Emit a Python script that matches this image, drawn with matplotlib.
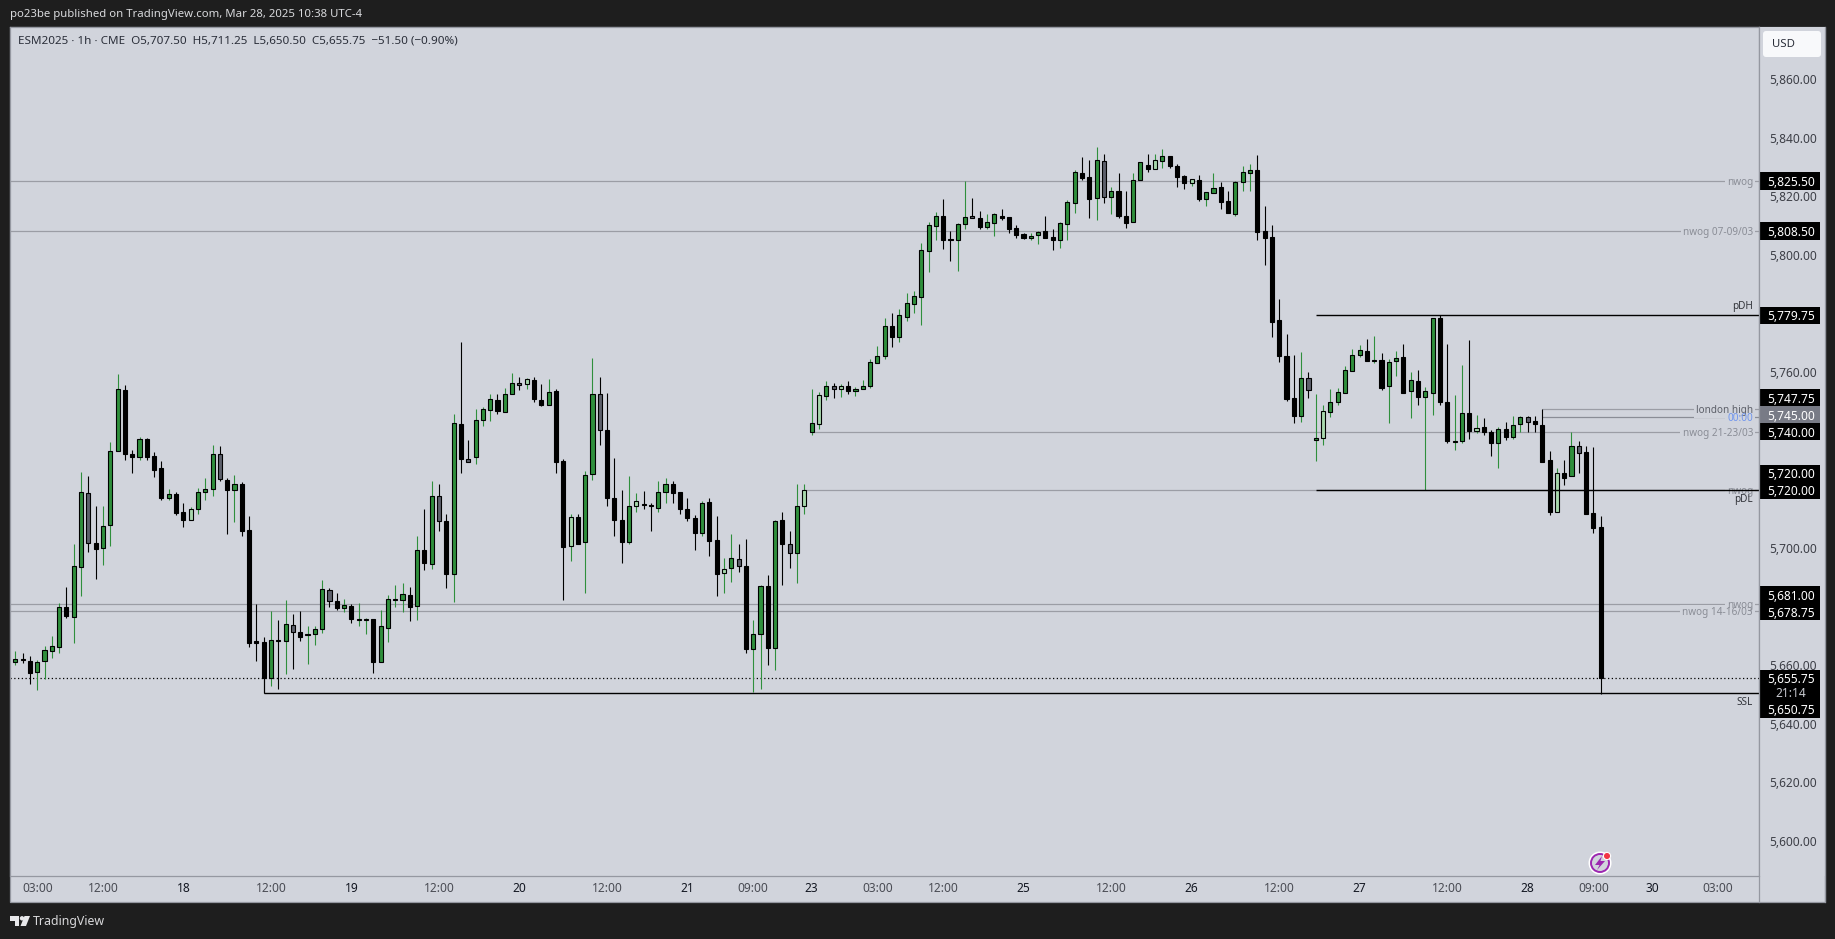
import matplotlib
matplotlib.use("Agg")
import matplotlib.pyplot as plt
from matplotlib.patches import Rectangle, Circle, Polygon, FancyBboxPatch
from matplotlib.transforms import ScaledTranslation

plt.rcParams['font.family'] = ['Noto Sans', 'DejaVu Sans']

# one entry per 1h candle, G green up, L pale up, B black down, K grey down
kinds = ("GBBGGGGBGG" "KBGGGBBGBB" "BGBBLGGGKB" "GBBBBGBGKB" "GGGKBGBGGB"
         "GGGGBGBGKB" "GBKGGGBGGK" "LBBGBBLBGG" "KBBBGLBBGG" "BBBBGBBLGK"
         "BGGBGBKGLG" "LGKLBGGGGG" "BGGGGGGBBG" "GKBGGBBBBG" "GBBGGGBBGK"
         "GBBGGBLGBB" "BLBGGBBGGG" "BBBBBBGKGL" "GGGGGBGBGG" "BGBGGBBGGB"
         "LBBGBGGKBB" "BLBGKBBB")

highs = [5665.0,5664.5,5663.5,5662.0,5667.0,5670.25,5681.5,5687.0,5701.75,5726.25,
         5725.0,5714.5,5714.5,5736.5,5759.75,5755.75,5733.75,5738.0,5737.75,5733.0,
         5730.0,5720.25,5719.5,5715.75,5714.25,5720.75,5724.0,5735.5,5735.25,5724.0,
         5725.25,5722.75,5711.25,5681.25,5669.75,5678.75,5675.75,5682.5,5677.75,5678.75,
         5673.5,5673.5,5689.5,5686.75,5685.0,5682.75,5681.0,5681.5,5676.5,5676.0,
         5679.25,5684.25,5687.75,5688.5,5687.0,5704.5,5713.75,5723.0,5722.25,5712.0,
         5746.0,5770.5,5737.0,5747.75,5748.5,5753.0,5753.0,5755.0,5760.0,5758.5,
         5758.25,5758.75,5756.25,5758.0,5754.5,5730.5,5711.75,5712.0,5726.5,5765.25,
         5758.5,5753.25,5731.0,5720.0,5725.0,5719.0,5719.75,5715.5,5723.0,5724.0,
         5723.0,5719.5,5717.5,5711.5,5716.25,5717.5,5711.25,5697.0,5705.0,5701.75,
         5703.5,5675.75,5687.75,5691.0,5710.0,5712.5,5706.25,5722.25,5722.25,5754.5,
         5753.5,5757.25,5756.5,5756.25,5757.25,5755.25,5757.5,5764.75,5769.25,5778.75,
         5780.5,5782.0,5787.25,5788.0,5804.5,5811.5,5815.0,5819.25,5808.5,5811.25,
         5825.5,5819.75,5815.25,5814.25,5814.75,5816.0,5813.25,5810.5,5807.75,5807.75,
         5808.5,5813.75,5809.25,5811.5,5819.0,5829.25,5833.75,5832.75,5837.25,5834.75,
         5823.5,5828.25,5822.25,5828.25,5832.0,5834.75,5834.75,5836.5,5834.0,5831.25,
         5827.75,5826.25,5827.75,5821.75,5828.25,5825.25,5822.25,5825.5,5830.5,5831.25,
         5834.5,5817.0,5810.5,5785.25,5773.25,5766.25,5767.25,5760.5,5752.75,5749.25,
         5754.5,5755.0,5762.25,5768.25,5769.5,5771.75,5772.75,5767.0,5764.75,5767.5,
         5770.0,5760.5,5761.0,5755.25,5778.75,5779.75,5770.0,5752.5,5762.75,5771.25,
         5745.75,5744.75,5740.5,5741.5,5743.25,5745.5,5745.5,5745.5,5745.5,5747.75,
         5733.25,5727.75,5730.25,5739.75,5736.75,5735.25,5734.75,5711.25]

body_top = [5662.5,5662.5,5661.75,5661.25,5665.5,5666.75,5680.0,5680.0,5694.0,5719.5,
            5719.0,5702.0,5707.75,5733.25,5754.5,5754.25,5732.5,5737.5,5737.5,5731.75,
            5727.5,5718.75,5718.75,5712.5,5713.5,5719.5,5720.5,5732.25,5732.25,5723.5,
            5722.0,5722.0,5706.5,5668.5,5668.25,5668.75,5668.75,5674.25,5674.0,5671.5,
            5671.0,5672.5,5686.25,5686.0,5682.25,5680.75,5680.5,5676.0,5676.0,5676.0,
            5673.5,5682.75,5682.75,5684.5,5684.25,5699.5,5699.5,5718.0,5718.0,5709.5,
            5743.0,5742.5,5730.75,5744.0,5747.75,5751.0,5750.75,5753.0,5756.5,5756.5,
            5758.0,5757.5,5750.75,5753.5,5753.75,5730.0,5710.75,5710.75,5725.25,5753.0,
            5753.0,5740.5,5717.25,5709.75,5714.5,5716.25,5715.25,5715.0,5719.5,5722.0,
            5722.0,5719.5,5713.5,5710.5,5715.5,5716.0,5703.0,5693.0,5696.75,5696.5,
            5694.0,5671.0,5687.25,5687.25,5709.5,5709.75,5701.75,5714.5,5720.0,5743.0,
            5752.5,5755.5,5755.5,5755.5,5755.5,5754.5,5755.5,5763.75,5765.75,5776.0,
            5776.0,5779.75,5783.75,5786.25,5802.0,5810.5,5813.75,5813.5,5805.75,5810.75,
            5813.25,5813.5,5812.75,5811.5,5814.25,5813.75,5813.25,5809.5,5807.5,5806.75,
            5808.25,5808.5,5806.5,5811.25,5818.25,5828.5,5828.25,5826.75,5832.75,5832.25,
            5822.0,5822.0,5813.5,5825.75,5832.0,5831.0,5832.75,5834.0,5834.0,5830.75,
            5827.25,5826.25,5825.75,5821.75,5823.25,5823.5,5818.75,5825.25,5828.5,5829.25,
            5829.25,5808.5,5806.5,5778.0,5765.75,5751.5,5758.25,5758.25,5737.75,5747.0,
            5750.0,5753.5,5761.0,5766.0,5767.75,5767.5,5764.5,5764.5,5763.75,5765.0,
            5765.5,5757.5,5757.25,5753.75,5778.75,5778.75,5750.0,5736.75,5746.25,5746.25,
            5741.25,5741.5,5739.75,5740.75,5740.75,5742.25,5745.0,5745.0,5743.5,5742.25,
            5730.25,5725.75,5725.75,5735.0,5735.0,5733.0,5712.25,5707.5]

body_bot = [5661.25,5662.0,5657.5,5658.0,5661.75,5665.0,5666.5,5677.0,5676.75,5693.75,
            5702.0,5700.0,5700.25,5708.0,5733.25,5732.5,5731.5,5731.25,5731.25,5727.0,
            5717.5,5717.5,5712.25,5710.0,5709.75,5713.5,5719.25,5720.25,5723.75,5720.0,
            5720.0,5706.0,5668.0,5667.75,5655.75,5656.0,5668.5,5668.5,5671.75,5669.75,
            5670.5,5671.0,5672.5,5682.25,5679.75,5679.75,5676.0,5675.75,5675.75,5661.5,
            5661.25,5673.0,5682.5,5682.5,5680.0,5680.5,5695.0,5694.75,5709.5,5691.25,
            5691.5,5730.5,5729.5,5731.5,5744.0,5747.25,5747.0,5746.75,5753.0,5755.75,
            5756.25,5751.0,5749.25,5749.25,5729.5,5700.75,5701.0,5701.75,5702.25,5725.5,
            5740.5,5717.25,5709.75,5702.25,5702.25,5714.5,5715.0,5714.75,5714.0,5719.25,
            5719.0,5713.75,5710.5,5705.25,5705.25,5702.5,5691.5,5691.75,5693.5,5694.0,
            5665.75,5665.75,5671.0,5666.0,5666.0,5701.75,5698.5,5698.5,5714.5,5739.75,
            5742.5,5752.25,5754.5,5754.5,5753.75,5753.75,5754.5,5755.5,5763.5,5765.75,
            5772.25,5772.25,5779.25,5783.5,5786.0,5801.75,5810.25,5805.5,5805.5,5805.5,
            5810.75,5812.75,5810.0,5810.0,5811.25,5813.0,5809.25,5807.0,5806.25,5806.0,
            5807.0,5806.25,5805.5,5805.5,5811.0,5818.0,5826.5,5819.5,5819.75,5820.0,
            5820.0,5813.5,5811.25,5811.5,5826.0,5829.75,5829.75,5832.25,5830.75,5827.0,
            5824.75,5825.0,5819.25,5819.25,5821.5,5818.25,5814.5,5814.25,5825.25,5828.25,
            5808.25,5806.0,5777.5,5765.75,5751.25,5745.25,5745.25,5754.25,5737.0,5737.75,
            5746.75,5750.25,5753.25,5760.75,5766.0,5764.0,5764.25,5755.0,5755.5,5764.0,
            5753.25,5753.75,5751.75,5751.75,5753.25,5750.0,5736.75,5736.5,5736.75,5740.25,
            5740.25,5739.75,5736.0,5736.0,5738.0,5738.0,5742.5,5743.25,5742.5,5729.75,
            5712.5,5712.5,5724.25,5724.75,5732.75,5711.75,5707.0,5655.75]

lows = [5660.5,5661.0,5654.0,5651.75,5655.5,5662.75,5664.5,5676.5,5668.0,5684.0,
        5699.0,5689.75,5694.5,5701.0,5733.25,5730.25,5726.0,5730.25,5730.25,5724.5,
        5716.75,5716.5,5711.5,5707.5,5709.75,5712.0,5716.5,5718.0,5723.0,5705.0,
        5709.25,5704.5,5666.5,5661.75,5650.75,5653.25,5652.25,5657.25,5659.0,5668.5,
        5660.75,5667.25,5671.25,5680.25,5679.25,5678.5,5674.75,5673.5,5671.0,5657.75,
        5661.25,5668.25,5680.25,5678.5,5675.5,5675.75,5692.75,5693.25,5706.25,5686.5,
        5682.0,5726.0,5729.5,5729.0,5741.75,5743.75,5746.0,5746.75,5753.0,5754.25,
        5754.5,5750.25,5748.75,5749.25,5726.0,5682.5,5696.0,5701.5,5684.75,5723.5,
        5735.5,5714.75,5704.5,5695.25,5701.75,5712.5,5713.75,5706.25,5712.5,5715.75,
        5715.75,5712.0,5709.5,5699.75,5704.5,5697.5,5684.0,5685.0,5688.75,5692.25,
        5664.5,5651.25,5652.25,5660.5,5658.75,5687.75,5693.5,5688.5,5712.0,5739.0,
        5741.0,5750.75,5751.5,5751.75,5753.0,5752.25,5754.5,5755.0,5763.25,5764.75,
        5768.75,5770.75,5777.75,5780.5,5776.25,5794.5,5805.5,5802.5,5798.25,5794.75,
        5809.25,5812.75,5809.25,5809.25,5806.75,5812.25,5807.75,5806.25,5805.75,5805.5,
        5804.0,5806.25,5802.0,5802.75,5805.5,5814.75,5826.0,5812.75,5812.25,5818.0,
        5814.25,5812.75,5809.5,5811.5,5826.0,5828.75,5829.75,5830.0,5830.0,5823.5,
        5822.75,5824.0,5818.75,5817.0,5821.5,5816.0,5814.5,5813.75,5822.25,5822.25,
        5805.5,5797.0,5772.25,5763.75,5750.5,5743.0,5743.25,5751.5,5730.0,5735.5,
        5745.0,5749.25,5753.25,5760.75,5765.5,5764.0,5763.25,5754.25,5743.0,5759.0,
        5753.25,5744.75,5749.25,5720.0,5745.75,5749.25,5736.25,5733.75,5736.25,5737.5,
        5739.5,5739.0,5731.75,5727.75,5737.25,5737.5,5739.75,5740.0,5739.75,5729.75,
        5711.5,5712.5,5721.75,5724.75,5726.0,5711.75,5705.5,5650.5]

# time axis, bar number of each label
time_ticks = [3,12,23,35,46,58,69,81,92,101,109,118,127,138,150,161,173,184,196,207,216,224,233]
time_labels = ["03:00","12:00","18","12:00","19","12:00","20","12:00","21","09:00","23",
               "03:00","12:00","25","12:00","26","12:00","27","12:00","28","09:00","30","03:00"]

price_ticks = [5600,5620,5640,5660,5680,5700,5720,5740,5760,5780,5800,5820,5840,5860]

# label and where it sits on the scale
badge_labels = ["5,825.50","5,808.50","5,779.75","5,747.75","5,745.00","5,740.00",
                "5,720.00","5,720.00","5,681.00","5,678.75","5,655.75","21:14","5,650.75"]
badge_pos = [5825.5,5808.5,5779.75,5751.5,5745.75,5740.0,5725.75,5720.0,5684.25,5678.5,5655.75,5651.0,5645.25]

# level lines: price, first bar (None = whole chart), text, colour, text colour
levels = [
    (5825.5, None, "nwog", "#9b9da5", "#8a8d96"),
    (5808.5, None, "nwog 07-09/03", "#9b9da5", "#8a8d96"),
    (5747.75, 209, "london high", "#9b9da5", "#5c5f68"),
    (5745.0, 209, "00:00", "#8a8d96", "#6f95ee"),
    (5740.0, 109, "nwog 21-23/03", "#9b9da5", "#8a8d96"),
    (5720.0, 108, "nwog", "#9b9da5", "#8a8d96"),
    (5681.0, None, "nwog", "#9b9da5", "#8a8d96"),
    (5678.75, None, "nwog 14-16/03", "#9b9da5", "#8a8d96"),
]
black_levels = [(5779.75, 178, "pDH", 1), (5720.0, 178, "pDL", -1), (5650.75, 34, "SSL", -1)]
last_price = 5655.75

BG = "#d1d4dc"
DARK = "#1e1e1e"
GREEN = "#2f8f3c"
PALE = "#a8d8ad"
GREY = "#5d606b"
EDGE = "#9598a1"
W, H = 1835, 939
SPACING = 7.306
X0 = 15.3


def box(l, t, r, b):
    return [l / W, 1 - b / H, (r - l) / W, (b - t) / H]


fig = plt.figure(figsize=(W / 100, H / 100), dpi=100, facecolor=DARK)
# panel behind both axes and the time strip
fig.add_artist(Rectangle((10 / W, 1 - 902 / H), 1815 / W, 875 / H, transform=fig.transFigure,
                         fc=BG, ec=EDGE, lw=0.9, zorder=-1))

ax = fig.add_axes(box(10, 27, 1759, 875.5), facecolor=BG)
ax.set_xlim((10 - X0) / SPACING, (1759 - X0) / SPACING)
ax.set_ylim(5588.5, 5878.1)
ax.yaxis.set_visible(False)
for s in ax.spines.values():
    s.set_color(EDGE)
    s.set_linewidth(0.9)

# candles
fills = {"G": GREEN, "L": PALE, "B": "black", "K": GREY}
xs = list(range(len(kinds)))
wick_cols = [GREEN if k in "GL" else "black" for k in kinds]
ax.vlines(xs, lows, highs, colors=wick_cols, linewidth=0.8, zorder=3)
ax.bar(xs, [t - b for t, b in zip(body_top, body_bot)], bottom=body_bot, width=0.56,
       color=[fills[k] for k in kinds], edgecolor="black", linewidth=0.8, zorder=4)

# levels
right = ax.get_xlim()[1]
text_x = (1753 - X0) / SPACING
for price, start, txt, col, tcol in levels:
    x1 = ax.get_xlim()[0] if start is None else start
    ax.hlines(price, x1, right, colors=col, linewidth=0.9, zorder=2)
    # mask under the text first, so crossing labels stay readable
    ax.text(text_x, price, txt, ha="right", va="center_baseline", fontsize=7.2, color=BG, zorder=2.5,
            bbox=dict(fc=BG, ec="none", pad=1.5))
    ax.text(text_x, price, txt, ha="right", va="center_baseline", fontsize=7.2, color=tcol, zorder=2.6)

for price, start, txt, side in black_levels:
    ax.hlines(price, start, right, colors="black", linewidth=1.0, zorder=5)
    ax.annotate(txt, (text_x, price), xytext=(0, 6.5 * side), textcoords="offset points",
                ha="right", va="center", fontsize=7.2, color="#33353b", zorder=6)
ax.vlines(34, 5650.75, 5668.0, colors="black", linewidth=0.8, zorder=3)

ax.hlines(last_price, ax.get_xlim()[0], right, colors="black", linewidth=0.9,
          linestyles=(0, (1, 2)), zorder=2)

ax.set_xticks(time_ticks)
ax.set_xticklabels(time_labels, fontsize=8.6, color="#4a4c54")
ax.tick_params(axis="x", length=0, pad=5)
for lab in ax.get_xticklabels():
    if ":" not in lab.get_text():
        lab.set_fontweight("bold")
        lab.set_color("#131722")

# price scale
axp = fig.add_axes(box(1759, 27, 1825, 875.5), facecolor=BG)
axp.set_xlim(0, 66)
axp.set_ylim(ax.get_ylim())
axp.set_xticks([])
axp.set_yticks(price_ticks)
axp.set_yticklabels([f"{p:,.2f}" for p in price_ticks], fontsize=8.6, color="#3d3f47",
                    ha="left", va="center_baseline")
axp.tick_params(axis="y", length=0, pad=-7)
lift = ScaledTranslation(0, 1 / 100, fig.dpi_scale_trans)
for lab in axp.get_yticklabels():
    lab.set_transform(lab.get_transform() + lift)
for s in axp.spines.values():
    s.set_visible(False)

for lab, pos in zip(badge_labels, badge_pos):
    fc = "#787b86" if lab == "5,745.00" else "black"
    axp.add_patch(Rectangle((1, pos - 2.95), 60, 5.9, fc=fc, ec="none", zorder=5))
    axp.text(32, pos, lab, ha="center", va="center_baseline", fontsize=8.6,
             color="#c8cad0" if lab == "21:14" else "white",
             fontweight="normal" if lab == "21:14" else "bold", zorder=6)

# overlay in pixels: frame bits, header, logo, icon
top = fig.add_axes([0, 0, 1, 1], zorder=10)
top.set_xlim(0, W)
top.set_ylim(H, 0)
top.axis("off")
top.patch.set_alpha(0)

top.plot([1759, 1759], [27, 902], color=EDGE, lw=0.9)
top.plot([1825, 1825], [27, 902], color=EDGE, lw=0.9)

top.text(10, 15, "po23be published on TradingView.com, Mar 28, 2025 10:38 UTC-4",
         fontsize=8.2, color="#d8d9dc", va="center")
top.text(18, 41, "ESM2025 · 1h · CME  O5,707.50  H5,711.25  L5,650.50  C5,655.75  −51.50 (−0.90%)",
         fontsize=8.4, color="#2a2e39", va="center")

top.add_patch(FancyBboxPatch((1763, 31), 58, 26, boxstyle="round,pad=0,rounding_size=3",
                             fc="#f8f9fb", ec="none"))
top.text(1772, 44.5, "USD", fontsize=8.2, color="#2a2e39", ha="left", va="center")

# logo
top.add_patch(Polygon([(10, 916), (19, 916), (19, 926), (14.5, 926), (14.5, 920.5), (10, 920.5)],
                      fc="#e8e8ea", ec="none"))
top.add_patch(Circle((22, 918.3), 2.2, fc="#e8e8ea", ec="none"))
top.add_patch(Polygon([(24.5, 916), (30, 916), (26, 926), (20.5, 926)], fc="#e8e8ea", ec="none"))
top.text(33, 921, "TradingView", fontsize=8.9, color="#d8d8da", va="center")

top.add_patch(Circle((1600, 863), 11.5, fc="white", ec="none"))
top.add_patch(Circle((1600, 863), 9, fc=BG, ec="#9c27b0", lw=1.4))
top.add_patch(Polygon([(1602, 856), (1595, 865), (1599.5, 865), (1597, 870), (1605, 861), (1600.5, 861)],
                      fc="#9c27b0", ec="none"))
top.add_patch(Circle((1607, 856), 3.6, fc="#f23645", ec="white", lw=0.8))

fig.savefig("out.png", dpi=100, facecolor=DARK)
